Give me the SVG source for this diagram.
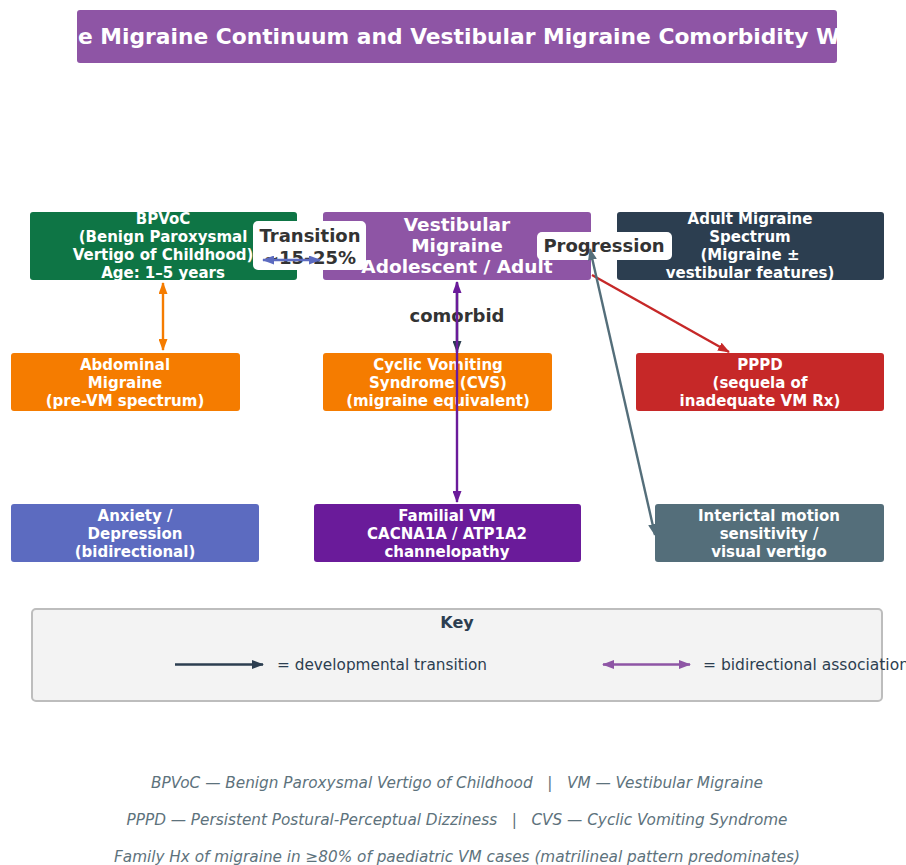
<svg xmlns="http://www.w3.org/2000/svg" width="906" height="865" viewBox="0 0 906 865">
  <defs>
    <style>
      .node-text { font-family: "DejaVu Sans", "Liberation Sans", sans-serif; font-weight: bold; font-size: 15px; fill: #ffffff; text-anchor: middle; }
      .big-text { font-family: "DejaVu Sans", "Liberation Sans", sans-serif; font-weight: bold; font-size: 18.5px; fill: #ffffff; text-anchor: middle; }
      .label-text { font-family: "DejaVu Sans", "Liberation Sans", sans-serif; font-weight: bold; font-size: 18px; fill: #333333; text-anchor: middle; }
      .key-text { font-family: "DejaVu Sans", "Liberation Sans", sans-serif; font-size: 15px; fill: #2c3e50; }
      .foot { font-family: "DejaVu Sans", "Liberation Sans", sans-serif; font-style: italic; font-size: 15.5px; fill: #5d727c; text-anchor: middle; white-space: pre; }
      .edge { fill: none; stroke-width: 2.4; }
    </style>
    <clipPath id="titleClip">
      <rect x="77" y="10" width="760" height="53" rx="3"/>
    </clipPath>
    <marker id="hBlue" viewBox="0 0 12 9" markerWidth="12" markerHeight="9" refX="11" refY="4.5" orient="auto-start-reverse" markerUnits="userSpaceOnUse">
      <path d="M0,0 L12,4.5 L0,9 z" fill="#5c6bc0"/>
    </marker>
    <marker id="hOrange" viewBox="0 0 12 9" markerWidth="12" markerHeight="9" refX="11" refY="4.5" orient="auto-start-reverse" markerUnits="userSpaceOnUse">
      <path d="M0,0 L12,4.5 L0,9 z" fill="#f57c00"/>
    </marker>
    <marker id="hPurple" viewBox="0 0 12 9" markerWidth="12" markerHeight="9" refX="11" refY="4.5" orient="auto-start-reverse" markerUnits="userSpaceOnUse">
      <path d="M0,0 L12,4.5 L0,9 z" fill="#6a1b9a"/>
    </marker>
    <marker id="hDark" viewBox="0 0 12 9" markerWidth="12" markerHeight="9" refX="11" refY="4.5" orient="auto-start-reverse" markerUnits="userSpaceOnUse">
      <path d="M0,0 L12,4.5 L0,9 z" fill="#2c3e50"/>
    </marker>
    <marker id="hRed" viewBox="0 0 12 9" markerWidth="12" markerHeight="9" refX="11" refY="4.5" orient="auto-start-reverse" markerUnits="userSpaceOnUse">
      <path d="M0,0 L12,4.5 L0,9 z" fill="#c62828"/>
    </marker>
    <marker id="hSlate" viewBox="0 0 12 9" markerWidth="12" markerHeight="9" refX="11" refY="4.5" orient="auto-start-reverse" markerUnits="userSpaceOnUse">
      <path d="M0,0 L12,4.5 L0,9 z" fill="#546e7a"/>
    </marker>
    <marker id="hViolet" viewBox="0 0 12 9" markerWidth="12" markerHeight="9" refX="11" refY="4.5" orient="auto-start-reverse" markerUnits="userSpaceOnUse">
      <path d="M0,0 L12,4.5 L0,9 z" fill="#8e55a5"/>
    </marker>
  </defs>

  <rect width="906" height="865" fill="#ffffff"/>

  <!-- Title banner -->
  <g id="title">
    <rect x="77" y="10" width="760" height="53" rx="3" fill="#8e55a5"/>
    <text x="78" y="44" clip-path="url(#titleClip)" textLength="762" lengthAdjust="spacingAndGlyphs" font-family="DejaVu Sans, Liberation Sans, sans-serif" font-weight="bold" font-size="22" fill="#ffffff">e Migraine Continuum and Vestibular Migraine Comorbidity W</text>
  </g>

  <!-- Nodes -->
  <g id="bpvoc">
    <rect x="30" y="212" width="267" height="68" rx="3" fill="#0e7545"/>
    <text class="node-text" x="163" y="224">BPVoC</text>
    <text class="node-text" x="163" y="242">(Benign Paroxysmal</text>
    <text class="node-text" x="163" y="260">Vertigo of Childhood)</text>
    <text class="node-text" x="163" y="278">Age: 1–5 years</text>
  </g>

  <g id="vm">
    <rect x="323" y="212" width="268" height="68" rx="3" fill="#8e55a5"/>
    <text class="big-text" x="457" y="231">Vestibular</text>
    <text class="big-text" x="457" y="252">Migraine</text>
    <text class="big-text" x="457" y="273">Adolescent / Adult</text>
  </g>

  <g id="adult">
    <rect x="617" y="212" width="267" height="68" rx="3" fill="#2c3e50"/>
    <text class="node-text" x="750" y="224">Adult Migraine</text>
    <text class="node-text" x="750" y="242">Spectrum</text>
    <text class="node-text" x="750" y="260">(Migraine ±</text>
    <text class="node-text" x="750" y="278">vestibular features)</text>
  </g>

  <g id="abdominal">
    <rect x="11" y="353" width="229" height="58" rx="3" fill="#f57c00"/>
    <text class="node-text" x="125" y="370">Abdominal</text>
    <text class="node-text" x="125" y="388">Migraine</text>
    <text class="node-text" x="125" y="406">(pre-VM spectrum)</text>
  </g>

  <g id="cvs">
    <rect x="323" y="353" width="229" height="58" rx="3" fill="#f57c00"/>
    <text class="node-text" x="438" y="370">Cyclic Vomiting</text>
    <text class="node-text" x="438" y="388">Syndrome (CVS)</text>
    <text class="node-text" x="438" y="406">(migraine equivalent)</text>
  </g>

  <g id="pppd">
    <rect x="636" y="353" width="248" height="58" rx="3" fill="#c62828"/>
    <text class="node-text" x="760" y="370">PPPD</text>
    <text class="node-text" x="760" y="388">(sequela of</text>
    <text class="node-text" x="760" y="406">inadequate VM Rx)</text>
  </g>

  <g id="anxiety">
    <rect x="11" y="504" width="248" height="58" rx="3" fill="#5c6bc0"/>
    <text class="node-text" x="135" y="521">Anxiety /</text>
    <text class="node-text" x="135" y="539">Depression</text>
    <text class="node-text" x="135" y="557">(bidirectional)</text>
  </g>

  <g id="familial">
    <rect x="314" y="504" width="267" height="58" rx="3" fill="#6a1b9a"/>
    <text class="node-text" x="447" y="521">Familial VM</text>
    <text class="node-text" x="447" y="539">CACNA1A / ATP1A2</text>
    <text class="node-text" x="447" y="557">channelopathy</text>
  </g>

  <g id="interictal">
    <rect x="655" y="504" width="229" height="58" rx="3" fill="#546e7a"/>
    <text class="node-text" x="769" y="521">Interictal motion</text>
    <text class="node-text" x="769" y="539">sensitivity /</text>
    <text class="node-text" x="769" y="557">visual vertigo</text>
  </g>

  <!-- Edge labels -->
  <g id="edge-labels">
    <rect x="253" y="221" width="113" height="49" rx="5" fill="#ffffff"/>
    <text class="label-text" x="310" y="242">Transition</text>
    <text class="label-text" x="310" y="264">~15–25%</text>
    <rect x="537" y="232" width="135" height="28" rx="5" fill="#ffffff"/>
    <text class="label-text" x="604" y="252">Progression</text>
    <text class="label-text" x="457" y="322" font-size="17">comorbid</text>
  </g>

  <!-- Connectors -->
  <g id="connectors">
    <line class="edge" x1="263" y1="260" x2="320" y2="260" stroke="#5c6bc0" marker-start="url(#hBlue)" marker-end="url(#hBlue)"/>
    <line class="edge" x1="163" y1="283" x2="163" y2="350" stroke="#f57c00" marker-start="url(#hOrange)" marker-end="url(#hOrange)"/>
    <line class="edge" x1="457" y1="283" x2="457" y2="352" stroke="#2c3e50" marker-end="url(#hDark)"/>
    <line class="edge" x1="457" y1="282" x2="457" y2="502" stroke="#6a1b9a" marker-start="url(#hPurple)" marker-end="url(#hPurple)"/>
    <line class="edge" x1="592" y1="275" x2="729" y2="352" stroke="#c62828" marker-end="url(#hRed)"/>
    <line class="edge" x1="590" y1="249" x2="655" y2="535" stroke="#546e7a" marker-start="url(#hSlate)" marker-end="url(#hSlate)"/>
  </g>

  <!-- Key -->
  <g id="key">
    <rect x="32" y="609" width="850" height="92" rx="4" fill="#f3f3f3" stroke="#bdbdbd" stroke-width="2"/>
    <text x="457" y="628" text-anchor="middle" font-family="DejaVu Sans, Liberation Sans, sans-serif" font-weight="bold" font-size="16" fill="#2c3e50">Key</text>
    <line class="edge" x1="175" y1="664.5" x2="263" y2="664.5" stroke="#2c3e50" stroke-width="3" marker-end="url(#hDark)"/>
    <text class="key-text" x="277" y="670" textLength="210" lengthAdjust="spacingAndGlyphs">= developmental transition</text>
    <line class="edge" x1="603" y1="664.5" x2="690" y2="664.5" stroke="#8e55a5" stroke-width="3" marker-start="url(#hViolet)" marker-end="url(#hViolet)"/>
    <text class="key-text" x="703" y="670" textLength="206" lengthAdjust="spacingAndGlyphs">= bidirectional association</text>
  </g>

  <!-- Footnotes -->
  <g id="footnotes">
    <text class="foot" x="457" y="788" textLength="612" lengthAdjust="spacingAndGlyphs">BPVoC — Benign Paroxysmal Vertigo of Childhood   |   VM — Vestibular Migraine</text>
    <text class="foot" x="457" y="825" textLength="661" lengthAdjust="spacingAndGlyphs">PPPD — Persistent Postural-Perceptual Dizziness   |   CVS — Cyclic Vomiting Syndrome</text>
    <text class="foot" x="457" y="862" textLength="686" lengthAdjust="spacingAndGlyphs">Family Hx of migraine in ≥80% of paediatric VM cases (matrilineal pattern predominates)</text>
  </g>
</svg>
